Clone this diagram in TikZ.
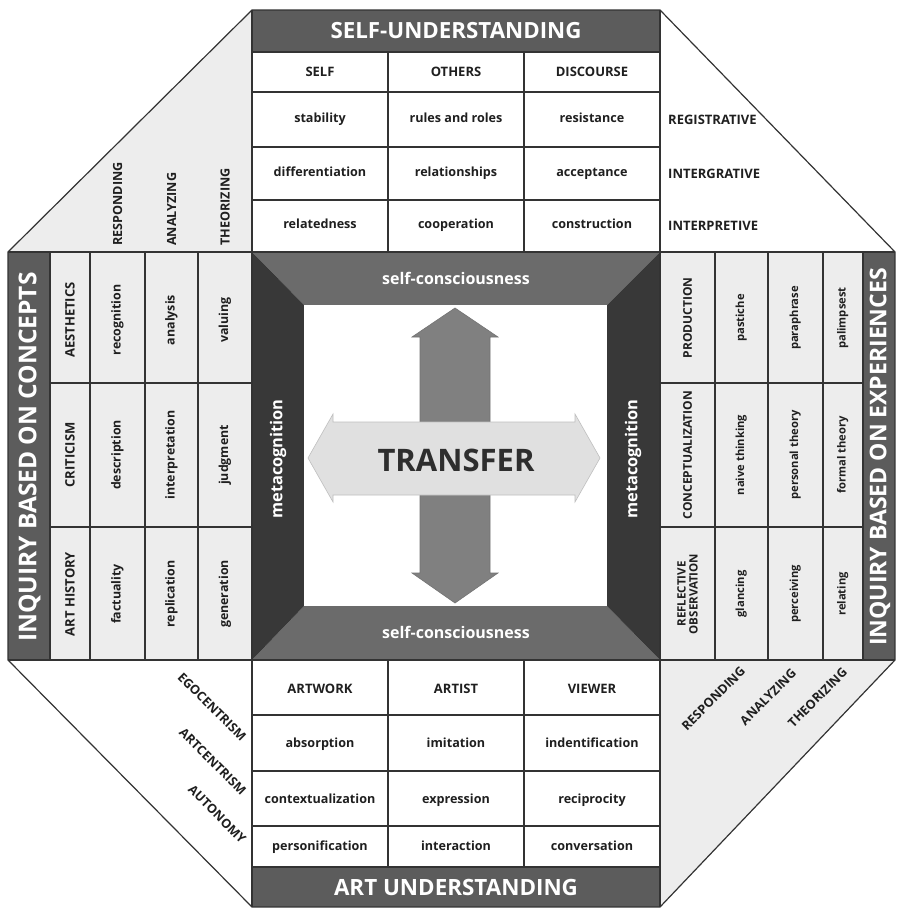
\documentclass[tikz,border=0pt]{standalone}
\usepackage{fontspec}
\setmainfont{Open Sans}
\definecolor{stipc}{gray}{0.93}
\definecolor{bandc}{gray}{0.36}
\definecolor{frametb}{gray}{0.42}
\definecolor{framelr}{gray}{0.22}
\definecolor{inkc}{gray}{0.12}
\begin{document}
\begin{tikzpicture}[x=1pt,y=-1pt,
  gridl/.style={line width=1.1pt, draw=black!80},
  outl/.style={line width=1.2pt, draw=black!80},
  lbl/.style={font=\bfseries\fontsize{12.6}{13}\selectfont, text=inkc, inner sep=0pt, text height=9pt, text depth=3pt},
  lblL/.style={font=\bfseries\fontsize{12.4}{13}\selectfont, text=inkc, inner sep=0pt, text height=9pt, text depth=3pt},
  lblR/.style={font=\bfseries\fontsize{11.2}{12}\selectfont, text=inkc, inner sep=0pt, text height=8pt, text depth=2.6pt},
  caplbl/.style={font=\bfseries\fontsize{13}{14}\selectfont, text=inkc, inner sep=0pt, text height=9.3pt, text depth=0pt},
  caplblR/.style={font=\bfseries\fontsize{12}{13}\selectfont, text=inkc, inner sep=0pt, text height=8.6pt, text depth=0pt},
  tri/.style={font=\bfseries\fontsize{12.6}{13}\selectfont, text=inkc, inner sep=0pt},
  trisd/.style={font=\bfseries\fontsize{13}{14}\selectfont, text=inkc, inner sep=0pt},
  bandtxt/.style={text=white, inner sep=0pt},
  frametxt/.style={font=\bfseries\fontsize{16}{17}\selectfont, text=white, inner sep=0pt},
  varrow/.style={fill=black!50, draw=black!55, line width=0.6pt},
  harrow/.style={fill=black!12, draw=black!25, line width=0.6pt},
]
\useasboundingbox (0,0) rectangle (900,909);

% ---- background fills
\fill[stipc] (252,10) -- (8,252) -- (252,252) -- cycle;
\fill[stipc] (660,907) -- (895,660) -- (660,660) -- cycle;
\fill[stipc] (8,252) rectangle (252,660);
\fill[stipc] (660,252) rectangle (895,660);
\fill[bandc] (252,10) rectangle (660,52);
\fill[bandc] (252,867) rectangle (660,907);
\fill[bandc] (8,252) rectangle (50,660);
\fill[bandc] (863,252) rectangle (895,660);

% ---- centre frame
\fill[frametb] (252,252) -- (660,252) -- (607,305) -- (304,305) -- cycle;
\fill[frametb] (252,660) -- (660,660) -- (607,606) -- (304,606) -- cycle;
\fill[framelr] (252,252) -- (304,305) -- (304,606) -- (252,660) -- cycle;
\fill[framelr] (660,252) -- (607,305) -- (607,606) -- (660,660) -- cycle;
\fill[white] (304,305) rectangle (607,606);

% ---- transfer arrows
\draw[varrow] (455,308) -- (498,337) -- (490,337) -- (490,573) -- (498,573)
  -- (455,603) -- (412,573) -- (420,573) -- (420,337) -- (412,337) -- cycle;
\draw[harrow] (308,458) -- (333,414) -- (333,422) -- (575,422) -- (575,414)
  -- (600,458) -- (575,502) -- (575,495) -- (333,495) -- (333,502) -- cycle;

% ---- grid lines
\foreach \yy in {52,92,147,200} \draw[gridl] (252,\yy) -- (660,\yy);
\foreach \xx in {388,524} \draw[gridl] (\xx,52) -- (\xx,252);
\foreach \yy in {715,771,826,867} \draw[gridl] (252,\yy) -- (660,\yy);
\foreach \xx in {388,524} \draw[gridl] (\xx,660) -- (\xx,867);
\foreach \xx in {50,90,145,198} \draw[gridl] (\xx,252) -- (\xx,660);
\foreach \yy in {383,527} \draw[gridl] (50,\yy) -- (252,\yy);
\foreach \xx in {715,768,823,863} \draw[gridl] (\xx,252) -- (\xx,660);
\foreach \yy in {383,527} \draw[gridl] (660,\yy) -- (863,\yy);
\draw[gridl] (252,10) -- (252,907);
\draw[gridl] (660,10) -- (660,907);
\draw[gridl] (8,252) -- (895,252);
\draw[gridl] (8,660) -- (895,660);
\draw[outl] (252,10) -- (660,10) -- (895,252) -- (895,660) -- (660,907)
  -- (252,907) -- (8,660) -- (8,252) -- cycle;

% ---- band titles
\node[bandtxt, font=\bfseries\fontsize{22.3}{23}\selectfont] (tSelfU) at (456,31) {SELF-UNDERSTANDING};
\node[bandtxt, font=\bfseries\fontsize{22.4}{23}\selectfont] (tArtU) at (456,887) {ART UNDERSTANDING};
\node[bandtxt, font=\bfseries\fontsize{24.5}{25}\selectfont, rotate=90] (tConc) at (29.5,457) {INQUIRY BASED ON CONCEPTS};
\node[bandtxt, font=\bfseries\fontsize{23}{24}\selectfont, rotate=90] (tExp) at (880,457) {INQUIRY BASED ON EXPERIENCES};

% ---- centre labels
\node[frametxt] (scTop) at (456,278) {self-consciousness};
\node[frametxt] (scBot) at (456,632) {self-consciousness};
\node[frametxt, font=\bfseries\fontsize{16.4}{17}\selectfont, rotate=90] (mcL) at (278,459) {metacognition};
\node[frametxt, font=\bfseries\fontsize{16.4}{17}\selectfont, rotate=90] (mcR) at (633,459) {metacognition};
\node[font=\bfseries\fontsize{31}{32}\selectfont, text=black!82, inner sep=0pt] (transfer) at (456,460) {TRANSFER};

% ---- top table
\node[caplbl] (t11) at (320,72) {SELF};
\node[caplbl] (t12) at (456,72) {OTHERS};
\node[caplbl] (t13) at (592,72) {DISCOURSE};
\node[lbl] (t21) at (320,120) {stability};
\node[lbl] (t22) at (456,120) {rules and roles};
\node[lbl] (t23) at (592,120) {resistance};
\node[lbl] (t31) at (320,174) {differentiation};
\node[lbl] (t32) at (456,174) {relationships};
\node[lbl] (t33) at (592,174) {acceptance};
\node[lbl] (t41) at (320,226) {relatedness};
\node[lbl] (t42) at (456,226) {cooperation};
\node[lbl] (t43) at (592,226) {construction};

% ---- bottom table
\node[caplbl] (b11) at (320,689) {ARTWORK};
\node[caplbl] (b12) at (456,689) {ARTIST};
\node[caplbl] (b13) at (592,689) {VIEWER};
\node[lbl] (b21) at (320,744) {absorption};
\node[lbl] (b22) at (456,744) {imitation};
\node[lbl] (b23) at (592,744) {indentification};
\node[lbl] (b31) at (320,800) {contextualization};
\node[lbl] (b32) at (456,800) {expression};
\node[lbl] (b33) at (592,800) {reciprocity};
\node[lbl] (b41) at (320,847) {personification};
\node[lbl] (b42) at (456,847) {interaction};
\node[lbl] (b43) at (592,847) {conversation};

% ---- left panel
\node[caplbl, rotate=90] (l11) at (70,320) {AESTHETICS};
\node[caplbl, rotate=90] (l21) at (70,455) {CRITICISM};
\node[caplbl, rotate=90] (l31) at (70,594) {ART HISTORY};
\node[lblL, rotate=90] (l12) at (117.5,320) {recognition};
\node[lblL, rotate=90] (l22) at (117.5,455) {description};
\node[lblL, rotate=90] (l32) at (117.5,594) {factuality};
\node[lblL, rotate=90] (l13) at (171.5,320) {analysis};
\node[lblL, rotate=90] (l23) at (171.5,455) {interpretation};
\node[lblL, rotate=90] (l33) at (171.5,594) {replication};
\node[lblL, rotate=90] (l14) at (225,320) {valuing};
\node[lblL, rotate=90] (l24) at (225,455) {judgment};
\node[lblL, rotate=90] (l34) at (225,594) {generation};

% ---- right panel
\node[caplblR, rotate=90] (r11) at (687.5,318) {PRODUCTION};
\node[caplblR, rotate=90] (r21) at (687.5,455) {CONCEPTUALIZATION};
\node[rotate=90, align=center, inner sep=0pt, text=inkc, font=\bfseries\fontsize{11.5}{12}\selectfont] (r31) at (687.5,594) {REFLECTIVE\\OBSERVATION};
\node[lblR, rotate=90] (r12) at (741.5,318) {pastiche};
\node[lblR, rotate=90] (r22) at (741.5,455) {naive thinking};
\node[lblR, rotate=90] (r32) at (741.5,594) {glancing};
\node[lblR, rotate=90] (r13) at (795.5,318) {paraphrase};
\node[lblR, rotate=90] (r23) at (795.5,455) {personal theory};
\node[lblR, rotate=90] (r33) at (795.5,594) {perceiving};
\node[lblR, rotate=90] (r14) at (843,318) {palimpsest};
\node[lblR, rotate=90] (r24) at (843,455) {formal theory};
\node[lblR, rotate=90] (r34) at (843,594) {relating};

% ---- corner triangles
\node[tri, rotate=90, anchor=west] (tlR) at (117.5,246) {RESPONDING};
\node[tri, rotate=90, anchor=west] (tlA) at (171.5,246) {ANALYZING};
\node[tri, rotate=90, anchor=west] (tlT) at (225,246) {THEORIZING};

\node[trisd, anchor=west] (trR) at (668,120) {REGISTRATIVE};
\node[trisd, anchor=west] (trI) at (668,174) {INTERGRATIVE};
\node[trisd, anchor=west] (trP) at (668,226) {INTERPRETIVE};

\node[tri, rotate=-45, anchor=east] (blE) at (244,739) {EGOCENTRISM};
\node[tri, rotate=-45, anchor=east] (blA) at (244,793) {ARTCENTRISM};
\node[tri, rotate=-45, anchor=east] (blU) at (244,841) {AUTONOMY};

\node[tri, rotate=45, anchor=east] (brR) at (743,669) {RESPONDING};
\node[tri, rotate=45, anchor=east] (brA) at (794,671) {ANALYZING};
\node[tri, rotate=45, anchor=east] (brT) at (845,670) {THEORIZING};
\end{tikzpicture}
\end{document}
